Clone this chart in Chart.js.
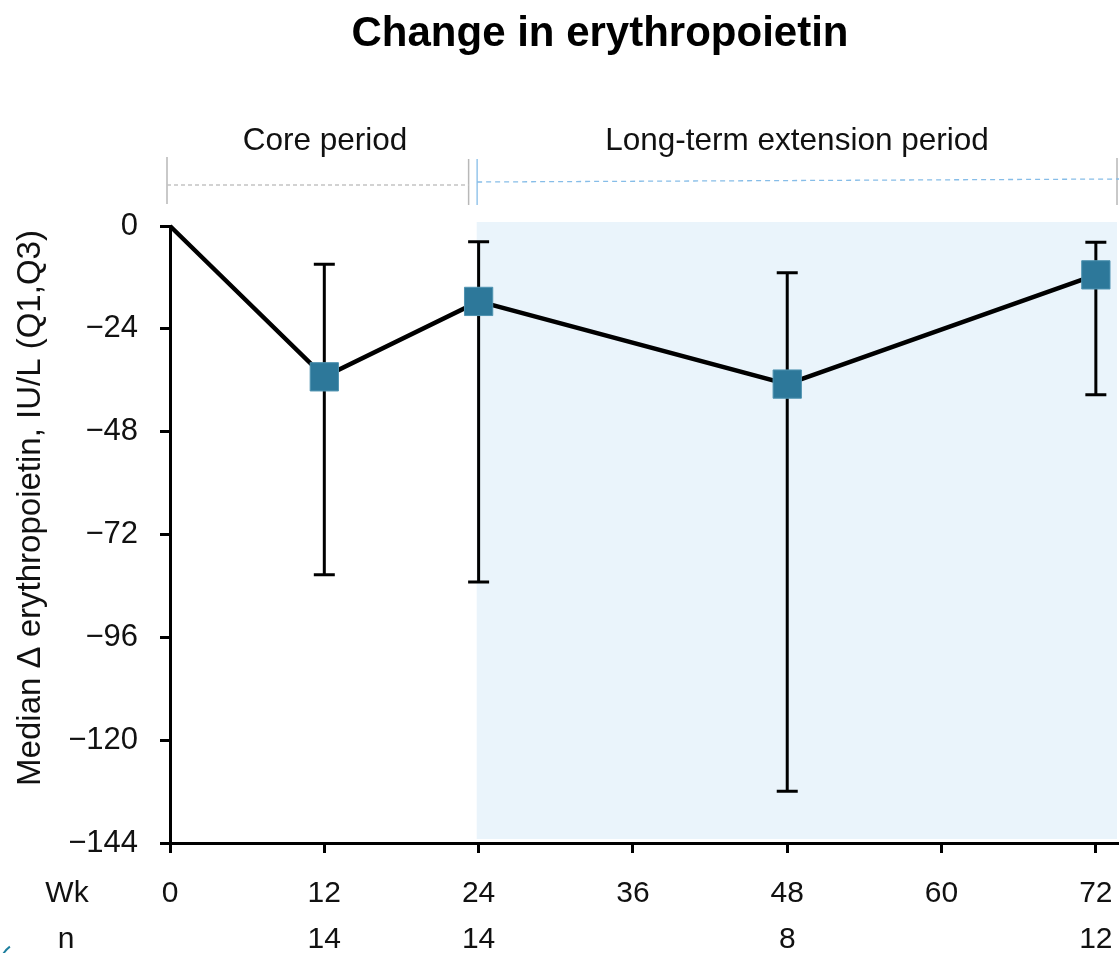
<!DOCTYPE html>
<html>
<head>
<meta charset="utf-8">
<script src="https://cdn.jsdelivr.net/npm/chart.js@4/dist/chart.umd.min.js"></script>
<style>
  html, body { margin: 0; padding: 0; background: #ffffff; }
  #wrap { width: 1119px; height: 953px; position: relative; }
</style>
</head>
<body>
<div id="wrap"><canvas id="c" width="1119" height="953"></canvas></div>
<script>
// ---- data ----
const weeks   = [0, 12, 24, 48, 72];
const median  = [0, -35.2, -17.6, -36.9, -11.4];
const q1      = [null, -81.4, -83.1, -131.9, -39.4];
const q3      = [null, -8.9, -3.7, -10.9, -3.8];
const xTicks  = [0, 12, 24, 36, 48, 60, 72];
const nCounts = { 12: '14', 24: '14', 48: '8', 72: '12' };
const yTicks  = [0, -24, -48, -72, -96, -120, -144];
const periods = [
  { label: 'Core period', from: 0, to: 24 },
  { label: 'Long-term extension period', from: 24, to: 73.8 }
];
const extensionStart = 23.85;

const FONT = "'Liberation Sans', Arial, sans-serif";
const fmt = v => v < 0 ? '\u2212' + Math.abs(v) : String(v);

const overlay = {
  id: 'overlay',
  beforeDatasetsDraw(chart) {
    const { ctx, scales: { x, y }, chartArea } = chart;
    ctx.save();
    // extension period shading
    ctx.fillStyle = '#eaf4fb';
    const sx = x.getPixelForValue(extensionStart);
    const top = y.getPixelForValue(0) - 4;
    const bot = y.getPixelForValue(-144) - 4;
    ctx.fillRect(sx, top, chartArea.right - 2 - sx, bot - top);
    // error bars
    ctx.strokeStyle = '#000';
    ctx.lineWidth = 3;
    weeks.forEach((w, i) => {
      if (q1[i] == null) return;
      const px = x.getPixelForValue(w);
      const yl = y.getPixelForValue(q1[i]);
      const yh = y.getPixelForValue(q3[i]);
      ctx.beginPath();
      ctx.moveTo(px, yh); ctx.lineTo(px, yl);
      ctx.moveTo(px - 10.5, yh); ctx.lineTo(px + 10.5, yh);
      ctx.moveTo(px - 10.5, yl); ctx.lineTo(px + 10.5, yl);
      ctx.stroke();
    });
    ctx.restore();
  },
  afterDraw(chart) {
    const { ctx, scales: { x } } = chart;
    ctx.save();
    // title
    ctx.fillStyle = '#000';
    ctx.textAlign = 'center';
    ctx.textBaseline = 'middle';
    ctx.font = 'bold 42px ' + FONT;
    ctx.fillText('Change in erythropoietin', 600, 34);
    // period labels
    ctx.font = '31.5px ' + FONT;
    ctx.fillStyle = '#111';
    ctx.fillText(periods[0].label, 325, 141);
    ctx.fillText(periods[1].label, 797, 141);
    // core bracket (grey)
    const x0 = x.getPixelForValue(periods[0].from) - 3;
    const x1 = x.getPixelForValue(periods[0].to) - 10;
    const x2 = x.getPixelForValue(periods[1].from) - 1.5;
    const x3 = chart.width - 2;
    ctx.strokeStyle = '#b8b8b8';
    ctx.lineWidth = 1.5;
    ctx.beginPath();
    ctx.moveTo(x0, 157); ctx.lineTo(x0, 204);
    ctx.moveTo(x1, 159); ctx.lineTo(x1, 205);
    ctx.moveTo(x3, 158); ctx.lineTo(x3, 205);
    ctx.stroke();
    ctx.setLineDash([4, 3]);
    ctx.strokeStyle = '#c4c4c4';
    ctx.beginPath();
    ctx.moveTo(x0, 185); ctx.lineTo(x1, 185);
    ctx.stroke();
    // extension bracket (blue)
    ctx.setLineDash([]);
    ctx.strokeStyle = '#86bde8';
    ctx.lineWidth = 1.3;
    ctx.beginPath();
    ctx.moveTo(x2, 159); ctx.lineTo(x2, 205);
    ctx.stroke();
    ctx.setLineDash([5, 4]);
    ctx.beginPath();
    ctx.moveTo(x2, 182); ctx.lineTo(chart.width, 179);
    ctx.stroke();
    ctx.setLineDash([]);
    // y axis title
    ctx.fillStyle = '#111';
    ctx.font = '33px ' + FONT;
    ctx.translate(31, 508);
    ctx.rotate(-Math.PI / 2);
    ctx.fillText('Median \u0394 erythropoietin, IU/L (Q1,Q3)', 0, 0);
    ctx.setTransform(1, 0, 0, 1, 0, 0);
    // row labels
    ctx.font = '30px ' + FONT;
    ctx.fillText('Wk', 67, 894);
    ctx.fillText('n', 66, 940);
    // corner artifact
    ctx.strokeStyle = '#1d7f9e';
    ctx.lineWidth = 2;
    ctx.beginPath();
    ctx.arc(24, 966, 24, Math.PI * 1.12, Math.PI * 1.3);
    ctx.stroke();
    ctx.restore();
  }
};

new Chart(document.getElementById('c'), {
  type: 'line',
  data: {
    datasets: [{
      data: weeks.map((w, i) => ({ x: w, y: median[i] })),
      borderColor: '#000',
      borderWidth: 4.5,
      pointStyle: 'rect',
      pointRadius: weeks.map(w => w === 0 ? 0 : 20),
      pointBackgroundColor: '#2d789a',
      pointBorderColor: '#4f93b1',
      pointBorderWidth: 1,
      clip: false,
      tension: 0
    }]
  },
  options: {
    responsive: false,
    animation: false,
    events: [],
    layout: { autoPadding: false, padding: { top: 226, right: 0, bottom: 0, left: 0 } },
    plugins: { legend: { display: false }, tooltip: { enabled: false }, title: { display: false } },
    scales: {
      x: {
        type: 'linear',
        min: 0, max: 73.8,
        afterFit: s => { s.height = 110; s.paddingLeft = 0; s.paddingRight = 0; },
        afterBuildTicks: s => { s.ticks = xTicks.map(v => ({ value: v })); },
        grid: { display: true, drawOnChartArea: false, drawTicks: true, tickLength: 10, tickWidth: 3, tickColor: '#000' },
        border: { display: true, color: '#000', width: 3 },
        ticks: {
          padding: 18,
          color: '#111',
          font: { family: FONT, size: 30, lineHeight: 1.53 },
          maxRotation: 0,
          autoSkip: false,
          callback: v => [String(v), nCounts[v] || '']
        }
      },
      y: {
        type: 'linear',
        min: -144, max: 0,
        afterFit: s => { s.width = 170; s.paddingTop = 0; s.paddingBottom = 0; },
        afterBuildTicks: s => { s.ticks = yTicks.map(v => ({ value: v })); },
        grid: { display: true, drawOnChartArea: false, drawTicks: true, tickLength: 10, tickWidth: 3, tickColor: '#000' },
        border: { display: true, color: '#000', width: 3 },
        ticks: {
          padding: 22,
          color: '#111',
          font: { family: FONT, size: 31 },
          callback: v => fmt(v)
        }
      }
    }
  },
  plugins: [overlay]
});
</script>
</body>
</html>
